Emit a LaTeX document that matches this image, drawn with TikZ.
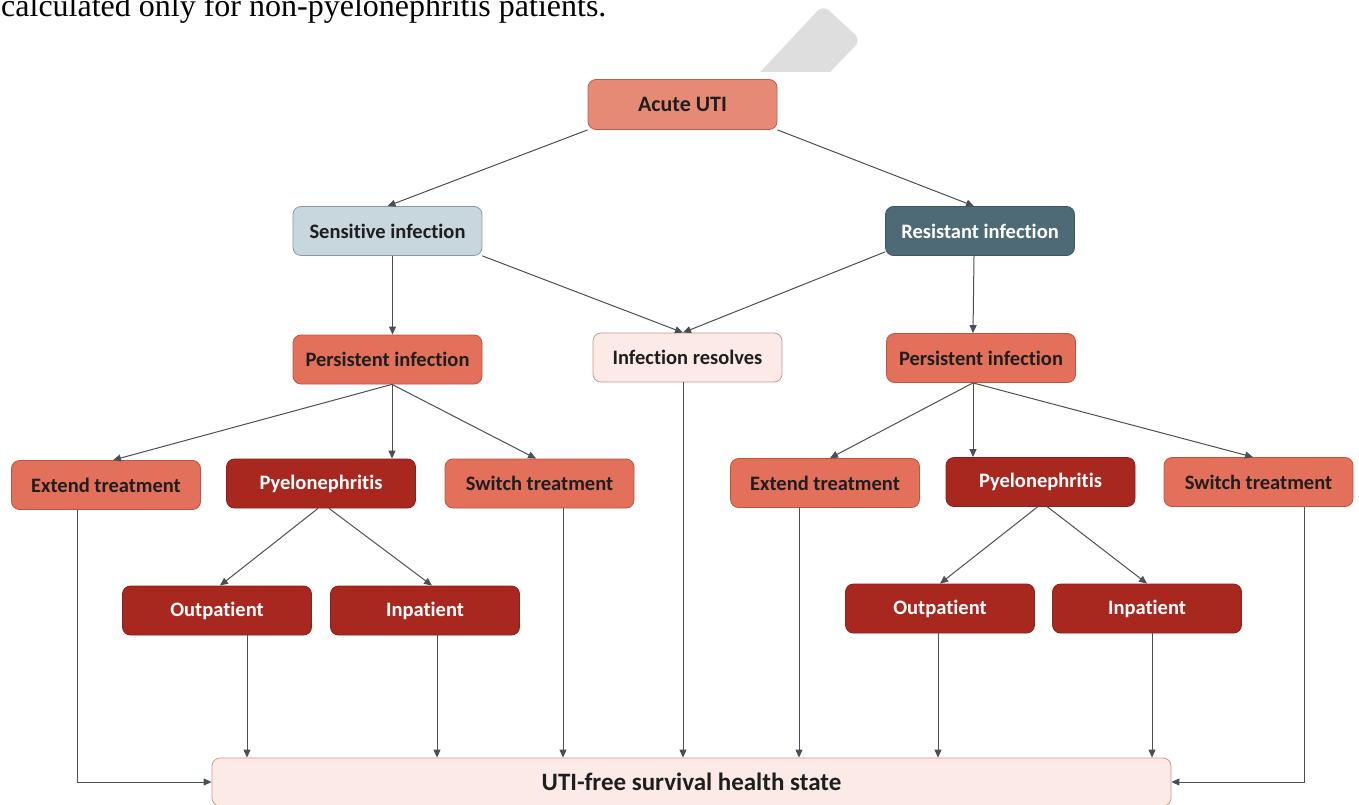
\documentclass[tikz,border=0pt]{standalone}
\usepackage{fontspec}
\newfontfamily\carlito[Ligatures=NoCommon]{Carlito}
\newfontfamily\tnr{Liberation Serif}
\usetikzlibrary{arrows.meta,calc}
\definecolor{acutefill}{HTML}{E68A76}
\definecolor{acutedraw}{HTML}{B5604F}
\definecolor{coralfill}{HTML}{E3705B}
\definecolor{coraldraw}{HTML}{C0533F}
\definecolor{redfill}{HTML}{A82820}
\definecolor{reddraw}{HTML}{8C1E18}
\definecolor{sensfill}{HTML}{C8D6DE}
\definecolor{sensdraw}{HTML}{8A99A2}
\definecolor{resfill}{HTML}{4E6A77}
\definecolor{resdraw}{HTML}{3E5662}
\definecolor{palefill}{HTML}{FCEAE6}
\definecolor{paledraw}{HTML}{CC9A8D}
\definecolor{linec}{HTML}{4A5058}
\definecolor{txt}{HTML}{1E1E1E}
\definecolor{wm}{HTML}{DEDEDE}
\begin{document}
\begin{tikzpicture}[x=1pt,y=-1pt,
  box/.style={rounded corners=8pt, minimum width=189pt, minimum height=49pt,
    inner sep=0pt, line width=0.8pt, text=txt,
    font=\carlito\bfseries\fontsize{20.5}{24}\selectfont},
  acutebox/.style={box, fill=acutefill, draw=acutedraw},
  coralbox/.style={box, fill=coralfill, draw=coraldraw},
  redbox/.style={box, fill=redfill, draw=reddraw, text=white},
  sensbox/.style={box, fill=sensfill, draw=sensdraw},
  resbox/.style={box, fill=resfill, draw=resdraw, text=white},
  palebox/.style={box, fill=palefill, draw=paledraw},
  conn/.style={draw=linec, line width=1pt, -{Triangle[length=8pt,width=7pt]}}]
\fill[white] (0,0) rectangle (1359,805);
\useasboundingbox (0,0) rectangle (1359,805);
% watermark shape
\begin{scope}
\clip (700,0) rectangle (900,72);
\fill[wm, rounded corners=8pt] (734,100) -- (823,5) -- (861,40) -- (803,100) -- cycle;
\end{scope}
% top text
\node[anchor=base west, inner sep=0pt, font=\tnr\fontsize{32}{36}\selectfont] (cap) at (1,17) {calculated only for non-pyelonephritis patients.};
% nodes
\node[acutebox, minimum height=50pt, font=\carlito\bfseries\fontsize{22}{26}\selectfont] (acute) at (682.5,104.5) {Acute UTI};
\node[sensbox] (sens) at (387.5,231) {Sensitive infection};
\node[resbox] (res) at (980,231) {Resistant infection};
\node[coralbox] (persL) at (387.5,359.5) {Persistent infection};
\node[palebox] (resolve) at (687.5,357.5) {Infection resolves};
\node[coralbox] (persR) at (981,358) {Persistent infection};
\node[coralbox] (extL) at (106,485) {Extend treatment};
\node[redbox] (pyeL) at (321,483.5) {Pyelonephritis};
\node[coralbox] (swL) at (539.5,483.5) {Switch treatment};
\node[coralbox] (extR) at (825,483) {Extend treatment};
\node[redbox] (pyeR) at (1040.5,482) {Pyelonephritis};
\node[coralbox] (swR) at (1258.5,482) {Switch treatment};
\node[redbox] (outL) at (217,610.5) {Outpatient};
\node[redbox] (inL) at (425,610.5) {Inpatient};
\node[redbox] (outR) at (940,608.5) {Outpatient};
\node[redbox] (inR) at (1147,608.5) {Inpatient};
\node[palebox, minimum width=959pt, minimum height=48pt, font=\carlito\bfseries\fontsize{25}{30}\selectfont] (uti) at (691.5,782) {UTI-free survival health state};
% connectors
\draw[conn] (acute.south west) -- (sens.north);
\draw[conn] (acute.south east) -- ([xshift=-6pt]res.north);
\draw[conn] ([xshift=5pt]sens.south) -- ([xshift=5pt]persL.north);
\draw[conn] (sens.south east) -- ([xshift=-4.5pt]resolve.north);
\draw[conn] ([yshift=4pt]res.south west) -- ([xshift=-4.5pt]resolve.north);
\draw[conn] ([xshift=-6pt]res.south) -- ([xshift=-8pt]persR.north);
\coordinate (fL) at ([xshift=4.5pt]persL.south);
\draw[conn] (fL) -- ([xshift=7pt]extL.north);
\draw[conn] (fL) -- ([xshift=71pt]pyeL.north);
\draw[conn] (fL) -- ([xshift=-3.5pt]swL.north);
\coordinate (fR) at ([xshift=-8pt]persR.south);
\draw[conn] (fR) -- ([xshift=5pt]extR.north);
\draw[conn] (fR) -- ([xshift=-67.5pt]pyeR.north);
\draw[conn] (fR) -- ([xshift=-5.5pt]swR.north);
\draw[conn] ([xshift=-3pt]pyeL.south) -- ([xshift=3pt]outL.north);
\draw[conn] ([xshift=8pt]pyeL.south) -- ([xshift=7pt]inL.north);
\draw[conn] ([xshift=-3pt]pyeR.south) -- (outR.north);
\draw[conn] ([xshift=7pt]pyeR.south) -- (inR.north);
% down to UTI-free state
\draw[conn] ([xshift=-29pt]extL.south) |- (uti.west);
\draw[conn] ([xshift=30pt]outL.south) -- ([xshift=30pt]outL.south |- uti.north);
\draw[conn] ([xshift=12pt]inL.south) -- ([xshift=12pt]inL.south |- uti.north);
\draw[conn] ([xshift=23.5pt]swL.south) -- ([xshift=23.5pt]swL.south |- uti.north);
\draw[conn] ([xshift=-4.5pt]resolve.south) -- ([xshift=-4.5pt]resolve.south |- uti.north);
\draw[conn] ([xshift=-26pt]extR.south) -- ([xshift=-26pt]extR.south |- uti.north);
\draw[conn] ([xshift=-2pt]outR.south) -- ([xshift=-2pt]outR.south |- uti.north);
\draw[conn] ([xshift=5pt]inR.south) -- ([xshift=5pt]inR.south |- uti.north);
\draw[conn] ([xshift=45.5pt]swR.south) |- (uti.east);
\end{tikzpicture}
\end{document}
